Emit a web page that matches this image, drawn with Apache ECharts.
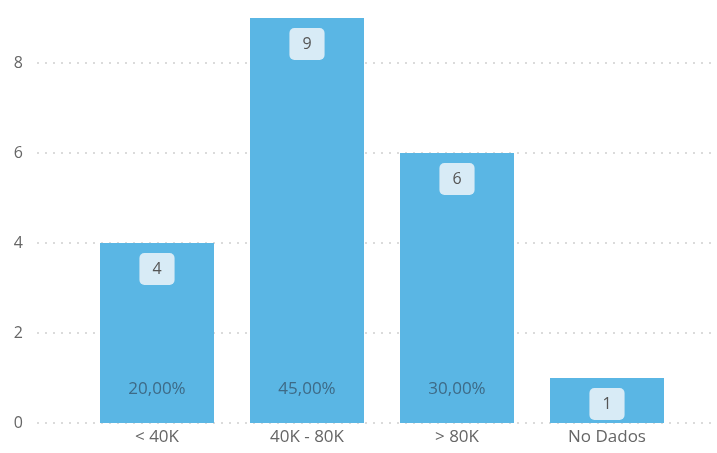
<!DOCTYPE html>
<html>
<head>
<meta charset="utf-8">
<script src="https://cdn.jsdelivr.net/npm/echarts@6/dist/echarts.min.js"></script>
<style>
  html, body { margin: 0; padding: 0; background: #fff; }
  #chart { width: 717px; height: 453px; }
</style>
</head>
<body>
<div id="chart"></div>
<script>
// data
var categories = ['< 40K', '40K - 80K', '> 80K', 'No Dados'];
var counts = [4, 9, 6, 1];
var percentLabels = ['20,00%', '45,00%', '30,00%', ''];
var yTicks = [0, 2, 4, 6, 8];

var myChart = echarts.init(document.getElementById('chart'));
var font = "'Segoe UI', 'Open Sans', sans-serif";

var option = {
    animation: false,
    grid: [
        // bars
        { left: 82, right: 35, top: 18, bottom: 30 },
        // background gridlines + y labels (0..8)
        { left: 37, right: 0, top: 63, bottom: 30 }
    ],
    xAxis: [{
        type: 'category',
        gridIndex: 0,
        data: categories,
        axisLine: { show: false },
        axisTick: { show: false },
        axisLabel: { color: '#666', fontSize: 17, fontFamily: font, margin: 6 }
    }, {
        type: 'value',
        gridIndex: 1,
        show: false
    }],
    yAxis: [{
        type: 'value',
        gridIndex: 0,
        min: 0,
        max: 9,
        show: false,
        splitLine: { show: false }
    }, {
        type: 'value',
        gridIndex: 1,
        min: yTicks[0],
        max: yTicks[yTicks.length - 1],
        interval: 2,
        axisLine: { show: false },
        axisTick: { show: false },
        axisLabel: { color: '#666', fontSize: 16, fontFamily: font, margin: 14 },
        splitLine: { lineStyle: { color: '#d0d0d0', type: [2, 6], width: 1.5 } }
    }],
    series: [{
        type: 'bar',
        xAxisIndex: 0,
        yAxisIndex: 0,
        data: counts,
        barWidth: 114,
        z: 3,
        itemStyle: { color: '#5ab6e4' },
        label: {
            show: true,
            position: 'insideTop',
            distance: 10,
            color: '#555',
            fontSize: 16,
            fontFamily: font,
            backgroundColor: '#d8ebf6',
            borderRadius: 5,
            padding: [7, 13, 7, 13],
            lineHeight: 18
        }
    }, {
        type: 'bar',
        xAxisIndex: 0,
        yAxisIndex: 0,
        data: counts,
        barWidth: 114,
        barGap: '-100%',
        z: 4,
        itemStyle: { color: 'rgba(0,0,0,0)' },
        label: {
            show: true,
            position: 'insideBottom',
            distance: 25,
            color: '#3e6a86',
            fontSize: 17,
            fontFamily: font,
            formatter: function(p) { return percentLabels[p.dataIndex]; }
        }
    }]
};

myChart.setOption(option);
</script>
</body>
</html>
